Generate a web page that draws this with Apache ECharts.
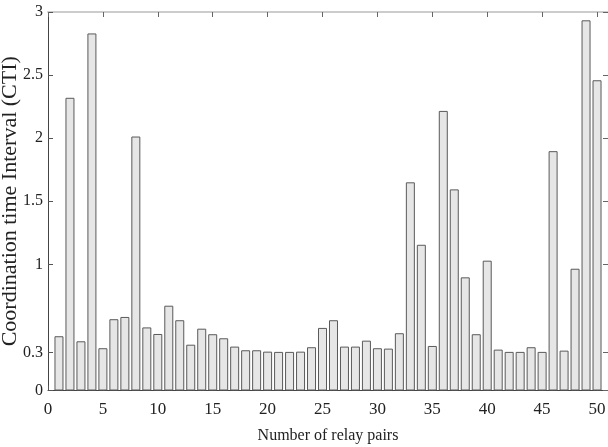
<!DOCTYPE html>
<html>
<head>
<meta charset="utf-8">
<script src="https://cdn.jsdelivr.net/npm/echarts@6/dist/echarts.min.js"></script>
<style>html,body{margin:0;padding:0;background:#fff}#c{width:608px;height:447px}</style>
</head>
<body>
<div id="c"></div>
<script>
var relayPairs = [1,2,3,4,5,6,7,8,9,10,11,12,13,14,15,16,17,18,19,20,21,22,23,24,25,26,27,28,29,30,31,32,33,34,35,36,37,38,39,40,41,42,43,44,45,46,47,48,49,50];
var ctiValues = [0.43,2.32,0.39,2.83,0.335,0.565,0.583,2.013,0.50,0.448,
                 0.672,0.557,0.363,0.49,0.446,0.414,0.348,0.319,0.319,0.308,
                 0.306,0.306,0.308,0.343,0.496,0.557,0.348,0.348,0.395,0.335,
                 0.332,0.454,1.65,1.155,0.353,2.216,1.594,0.897,0.446,1.029,
                 0.324,0.306,0.306,0.343,0.306,1.897,0.316,0.965,2.934,2.459];
var xTicks = [0,5,10,15,20,25,30,35,40,45,50];
var yTicks = [0,0.3,1,1.5,2,2.5,3];

var font = 'Liberation Serif, Times New Roman, serif';
var chart = echarts.init(document.getElementById('c'));
var data = relayPairs.map(function(p,i){return [p, ctiValues[i]];});
chart.setOption({
  animation:false,
  grid:{left:48,right:0,top:12,bottom:56.5,containLabel:false,outerBoundsMode:'none'},
  xAxis:[{
    type:'value',min:0,max:51,
    name:'Number of relay pairs',nameLocation:'middle',nameGap:37,nameMoveOverlap:false,
    nameTextStyle:{fontFamily:font,fontSize:16,color:'#222'},
    axisLine:{show:true,onZero:false,lineStyle:{color:'#444',width:1}},
    axisTick:{show:true,inside:true,length:5,customValues:xTicks,lineStyle:{color:'#555'}},
    axisLabel:{customValues:xTicks,fontFamily:font,fontSize:17,color:'#222',margin:11},
    splitLine:{show:false}
  },{
    type:'value',min:0,max:51,position:'top',
    axisLine:{show:true,onZero:false,lineStyle:{color:'#ccc',width:2}},
    axisTick:{show:true,inside:true,length:5,customValues:xTicks,lineStyle:{color:'#666'}},
    axisLabel:{show:false},splitLine:{show:false}
  }],
  yAxis:[{
    type:'value',min:0,max:3,
    name:'Coordination time Interval (CTI)',nameLocation:'middle',nameGap:27,nameMoveOverlap:false,
    nameTextStyle:{fontFamily:font,fontSize:22,color:'#222'},
    axisLine:{show:true,onZero:false,lineStyle:{color:'#444',width:1}},
    axisTick:{show:true,inside:true,length:5,customValues:yTicks,lineStyle:{color:'#555'}},
    axisLabel:{customValues:yTicks,fontFamily:font,fontSize:16,color:'#222',margin:5},
    splitLine:{show:false}
  },{
    type:'value',min:0,max:3,position:'right',
    axisLine:{show:true,onZero:false,lineStyle:{color:'#ccc',width:1}},
    axisTick:{show:true,inside:true,length:5,customValues:yTicks,lineStyle:{color:'#666'}},
    axisLabel:{show:false},splitLine:{show:false}
  }],
  series:[{
    type:'bar',data:data,barWidth:9,
    itemStyle:{color:'#e6e6e6',borderColor:'#5a5a5a',borderWidth:1}
  }]
});
</script>
</body>
</html>
